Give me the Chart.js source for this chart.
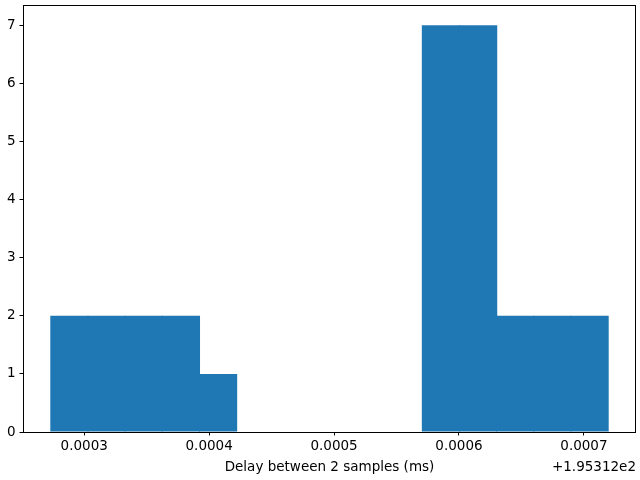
<!DOCTYPE html>
<html>
<head>
<meta charset="utf-8">
<script src="https://cdn.jsdelivr.net/npm/chart.js@4/dist/chart.umd.min.js"></script>
<style>
html,body{margin:0;padding:0;background:#fff;}
#wrap{width:640px;height:480px;position:relative;}
</style>
</head>
<body>
<div id="wrap"><canvas id="c" width="640" height="480"></canvas></div>
<script>
// Histogram bin centers (offset from 1.95312e2 ms)
const binCenters = [0.00028817, 0.00031791, 0.00034765, 0.00037739, 0.00040713,
                    0.00043687, 0.00046661, 0.00049635, 0.00052609, 0.00055583,
                    0.00058557, 0.00061531, 0.00064505, 0.00067479, 0.00070453];
const counts = [2, 2, 2, 2, 1, 0, 0, 0, 0, 0, 7, 7, 2, 2, 2];
const xTickValues = [0.0003, 0.0004, 0.0005, 0.0006, 0.0007];
const yTickValues = [0, 1, 2, 3, 4, 5, 6, 7];
const offsetText = "+1.95312e2";
const xTitle = "Delay between 2 samples (ms)";

const FONT = "'DejaVu Sans', sans-serif";

const boxPlugin = {
  id: 'box',
  afterDraw(chart) {
    const {ctx, chartArea: a} = chart;
    ctx.save();
    ctx.strokeStyle = '#000';
    ctx.lineWidth = 1;
    ctx.strokeRect(Math.round(a.left) + 0.5, Math.round(a.top) + 0.5,
                   Math.round(a.right - a.left) - 1, Math.round(a.bottom - a.top));
    ctx.fillStyle = '#000';
    ctx.font = "13.5px " + FONT;
    ctx.textAlign = 'right';
    ctx.textBaseline = 'middle';
    ctx.fillText(offsetText, a.right, 467);
    ctx.restore();
  }
};

new Chart(document.getElementById('c'), {
  type: 'bar',
  data: {
    datasets: [{
      data: binCenters.map((x, i) => ({x: x, y: counts[i]})),
      backgroundColor: '#1f77b4',
      borderColor: '#1f77b4',
      borderWidth: 0,
      inflateAmount: 0,
      barPercentage: 1.03,
      categoryPercentage: 1.0
    }]
  },
  options: {
    responsive: false,
    animation: false,
    devicePixelRatio: 1,
    layout: {padding: {top: 5, right: 4, left: 0, bottom: 0}},
    plugins: {legend: {display: false}, tooltip: {enabled: false}},
    scales: {
      x: {
        type: 'linear',
        offset: false,
        min: 0.0002510,
        max: 0.0007417,
        afterFit(s) { s.height = 48; s.paddingLeft = 0; s.paddingRight = 0; },
        afterBuildTicks(s) { s.ticks = xTickValues.map(v => ({value: v})); },
        grid: {display: true, offset: false, drawOnChartArea: false, tickLength: 3.5, tickColor: '#000', tickWidth: 1},
        border: {display: false},
        ticks: {
          color: '#000',
          font: {family: FONT, size: 13.5},
          padding: 3,
          maxRotation: 0,
          autoSkip: false,
          callback: v => Number(v).toFixed(4)
        },
        title: {
          display: true,
          text: xTitle,
          color: '#000',
          font: {family: FONT, size: 13.5},
          padding: {top: 0, bottom: 4}
        }
      },
      y: {
        type: 'linear',
        min: 0,
        max: 7.35,
        afterFit(s) { s.width = 23; s.paddingTop = 0; s.paddingBottom = 0; },
        afterBuildTicks(s) { s.ticks = yTickValues.map(v => ({value: v})); },
        grid: {display: true, drawOnChartArea: false, tickLength: 3.5, tickColor: '#000', tickWidth: 1},
        border: {display: false},
        ticks: {
          color: '#000',
          font: {family: FONT, size: 13.5},
          padding: 4,
          autoSkip: false,
          callback: v => String(v)
        }
      }
    }
  },
  plugins: [boxPlugin]
});
</script>
</body>
</html>
